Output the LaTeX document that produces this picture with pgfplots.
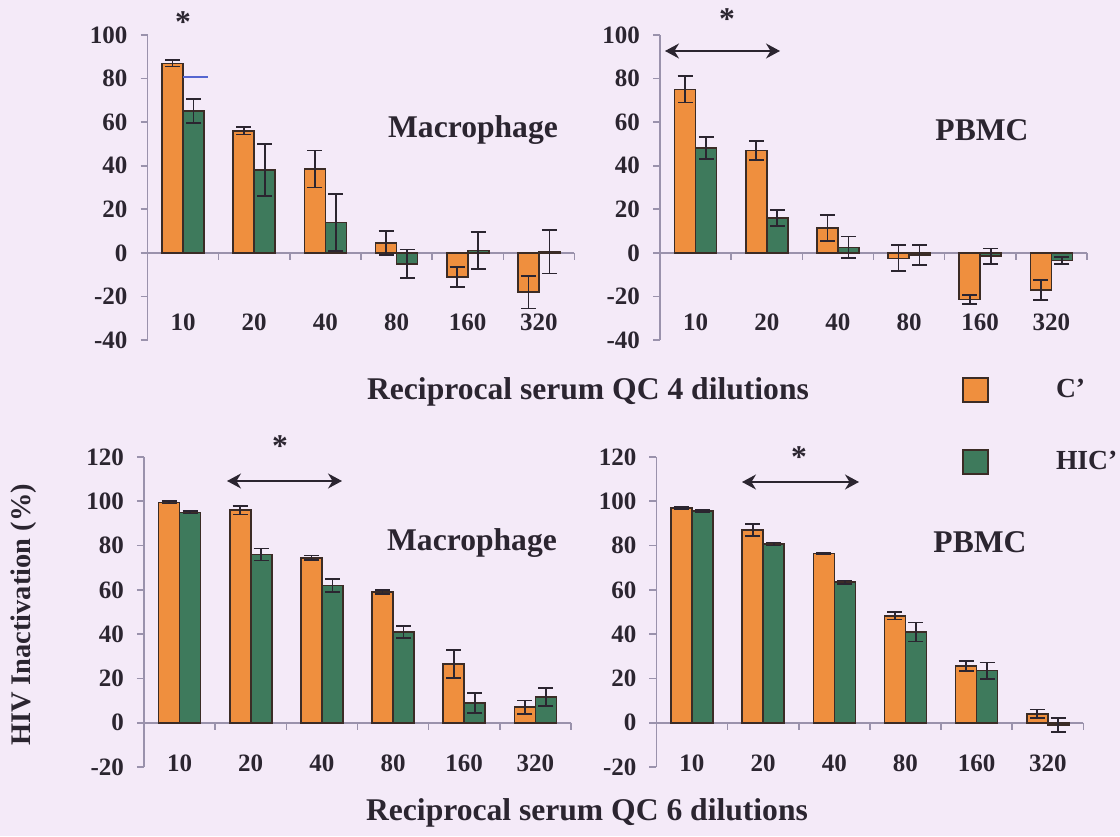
\documentclass[border=0pt]{standalone}
\usepackage{fontspec}
\setmainfont{Liberation Serif}
\usepackage{pgfplots}
\pgfplotsset{compat=1.18}
\usepackage{pgfplotstable}
\usetikzlibrary{arrows.meta}

\definecolor{bgcol}{HTML}{F4EAF8}
\definecolor{cprime}{HTML}{EF8F3E}
\definecolor{hicprime}{HTML}{3E7A5C}
\definecolor{edgecol}{HTML}{3B2C26}
\definecolor{axiscol}{HTML}{9A92AC}
\definecolor{inkcol}{HTML}{2B2530}
\definecolor{stray}{HTML}{5566D0}

% columns: dilution index, mean inactivation (%), error
% QC 4, macrophage
\pgfplotstableread{
x y e
0 87 1.5
1 56 1.7
2 38.5 8.5
3 4.5 5.5
4 -11 4.5
5 -18 7.5
}\qcfourmacC
\pgfplotstableread{
x y e
0 65 5.5
1 38 12
2 14 13
3 -5 6.5
4 1 8.5
5 0.5 10
}\qcfourmacH
% QC 4, PBMC
\pgfplotstableread{
x y e
0 75 6
1 47 4.5
2 11.5 6
3 -2.5 6
4 -21.5 2
5 -17 4.5
}\qcfourpbC
\pgfplotstableread{
x y e
0 48 5
1 16 3.5
2 2.5 5
3 -1 4.5
4 -1.5 3.5
5 -3.5 1.5
}\qcfourpbH
% QC 6, macrophage
\pgfplotstableread{
x y e
0 99.5 0.5
1 96 2
2 74.5 1
3 59 1
4 26.5 6.3
5 7 3
}\qcsixmacC
\pgfplotstableread{
x y e
0 95 0.5
1 76 2.7
2 62 2.8
3 41 2.8
4 9 4.5
5 11.5 4
}\qcsixmacH
% QC 6, PBMC
\pgfplotstableread{
x y e
0 97 0.5
1 87 2.7
2 76.5 0.4
3 48.3 1.7
4 25.5 2.2
5 4 2
}\qcsixpbC
\pgfplotstableread{
x y e
0 95.5 0.5
1 80.7 0.7
2 63.5 0.7
3 41 4.3
4 23.5 3.7
5 -1 3.2
}\qcsixpbH

\pgfplotsset{
  panel/.style={
    scale only axis, width=213.5pt, clip=false,
    ybar=0pt, bar width=10.5pt,
    xmin=-0.5, xmax=5.5,
    axis x line*=bottom, axis y line*=left,
    x axis line style={draw=none},
    y axis line style={draw=axiscol, line width=0.8pt},
    xtick={0,...,5}, xticklabels={10,20,40,80,160,320},
    x tick style={draw=none},
    y tick style={draw=axiscol, line width=0.8pt},
    tick align=outside, major tick length=3.5pt,
    ticklabel style={font=\fontsize{12.5}{14}\selectfont\bfseries, text=inkcol},
    yticklabel style={anchor=east, xshift=-3pt},
    xticklabel style={anchor=center},
  },
  sqlegend/.style={legend image code/.code={%
    \draw[##1, line width=0.8pt] (0pt,-6pt) rectangle (12.5pt,6pt);}},
  barbase/.style={draw=edgecol, line width=0.8pt, sqlegend,
    error bars/y dir=both, error bars/y explicit,
    error bars/error bar style={line width=0.9pt, draw=inkcol},
    error bars/error mark options={rotate=90, line width=0.9pt, draw=inkcol, mark size=3.75pt}},
  cbar/.style={barbase, fill=cprime},
  hbar/.style={barbase, fill=hicprime},
}
\newcommand{\zeroline}{%
  \draw[axiscol, line width=0.8pt] (axis cs:-0.5,0) -- (axis cs:5.5,0);
  \pgfplotsinvokeforeach{0.5,1.5,2.5,3.5,4.5,5.5}{%
    \draw[axiscol, line width=0.8pt] (axis cs:##1,0) -- ++(0pt,-3.5pt);}%
}

\begin{document}
\begin{tikzpicture}
\fill[bgcol] (0pt,0pt) rectangle (560pt,418pt);
\useasboundingbox (0pt,0pt) rectangle (560pt,418pt);

% top left: QC 4, macrophage
\begin{axis}[panel, at={(73.75pt,248pt)}, anchor=south west, height=152.5pt,
  ymin=-40, ymax=100, ytick={-40,-20,...,100},
  yticklabels={-40,-20,0,20,40,60,80,100},
  xticklabel style={yshift=12.5pt}]
\zeroline
\addplot[cbar] table[x=x, y=y, y error=e] {\qcfourmacC};
\addplot[hbar] table[x=x, y=y, y error=e] {\qcfourmacH};
\end{axis}

% top right: QC 4, PBMC
\begin{axis}[panel, at={(330pt,248pt)}, anchor=south west, height=152.5pt,
  ymin=-40, ymax=100, ytick={-40,-20,...,100},
  yticklabels={-40,-20,0,20,40,60,80,100},
  xticklabel style={yshift=12.5pt},
  legend style={draw=none, fill=none, at={(0.7073,-0.1213)}, anchor=north west,
    inner sep=0pt, row sep=23pt,
    font=\fontsize{13.8}{16}\selectfont\bfseries, text=inkcol,
    nodes={inner sep=0pt},
    /tikz/every odd column/.append style={column sep=33.5pt}},
  legend cell align=left]
\zeroline
\addplot[cbar] table[x=x, y=y, y error=e] {\qcfourpbC};
\addplot[hbar] table[x=x, y=y, y error=e] {\qcfourpbH};
\legend{C', HIC'}
\end{axis}

% bottom left: QC 6, macrophage
\begin{axis}[panel, at={(72pt,34.5pt)}, anchor=south west, height=155pt,
  ymin=-20, ymax=120, ytick={-20,0,...,120},
  yticklabels={-20,0,20,40,60,80,100,120},
  xticklabel style={yshift=5.5pt}]
\zeroline
\addplot[cbar] table[x=x, y=y, y error=e] {\qcsixmacC};
\addplot[hbar] table[x=x, y=y, y error=e] {\qcsixmacH};
\end{axis}

% bottom right: QC 6, PBMC
\begin{axis}[panel, at={(328.2pt,34.5pt)}, anchor=south west, height=155pt,
  ymin=-20, ymax=120, ytick={-20,0,...,120},
  yticklabels={-20,0,20,40,60,80,100,120},
  xticklabel style={yshift=5.5pt}]
\zeroline
\addplot[cbar] table[x=x, y=y, y error=e] {\qcsixpbC};
\addplot[hbar] table[x=x, y=y, y error=e] {\qcsixpbH};
\end{axis}

% titles, significance marks and arrows (page units, y downwards)
\begin{scope}[shift={(0pt,418pt)}, x=0.5pt, y=-0.5pt,
  every node/.style={text=inkcol, font=\fontsize{15.8}{18}\selectfont\bfseries}]
  \node at (473,130) {Macrophage};
  \node at (982,130) {PBMC};
  \node at (472,543) {Macrophage};
  \node at (980,542) {PBMC};
  \node at (588,392) {Reciprocal serum QC 4 dilutions};
  \node at (587,813) {Reciprocal serum QC 6 dilutions};
  \node[rotate=90, font=\fontsize{14.2}{16}\selectfont\bfseries] at (24,615) {HIV Inactivation (\%)};
  \node at (183,22) {*};
  \node at (727,19) {*};
  \node at (280,446) {*};
  \node at (799,457) {*};
  \draw[inkcol, line width=0.7pt, {Stealth[length=7pt,width=7.5pt]}-{Stealth[length=7pt,width=7.5pt]}] (665,51) -- (780,51);
  \draw[inkcol, line width=0.7pt, {Stealth[length=7pt,width=7.5pt]}-{Stealth[length=7pt,width=7.5pt]}] (227,481) -- (342,481);
  \draw[inkcol, line width=0.7pt, {Stealth[length=7pt,width=7.5pt]}-{Stealth[length=7pt,width=7.5pt]}] (742,482) -- (859,482);
  \draw[stray, line width=0.6pt] (183,77) -- (208,77);
\end{scope}
\end{tikzpicture}
\end{document}
